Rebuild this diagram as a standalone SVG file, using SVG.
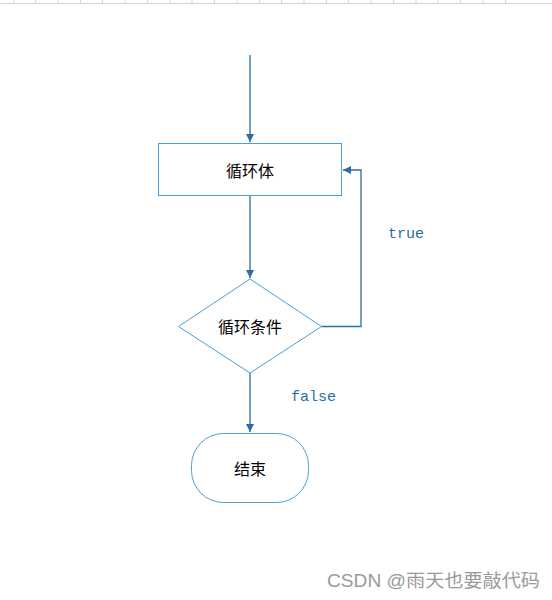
<svg xmlns="http://www.w3.org/2000/svg" width="552" height="600" viewBox="0 0 552 600">
<style>
.shape{fill:#ffffff;stroke:#4a9fdc;stroke-width:1}
.conn{fill:none;stroke:#2b6ca3;stroke-width:1.3}
.lbl{font-family:"Noto Sans CJK SC","Liberation Sans",sans-serif;font-size:16px;fill:#000;text-anchor:middle;dominant-baseline:central}
.edge{font-family:"Liberation Mono","DejaVu Sans Mono",monospace;font-size:15px;fill:#2b6ca3}
.wm{font-family:"Liberation Sans","Noto Sans CJK SC",sans-serif;font-size:18px;fill:#9a9a9a}
.tick{stroke:#d4d4d4;stroke-width:1}
</style>
<defs>
<marker id="arr" markerWidth="10" markerHeight="10" refX="8" refY="5" orient="auto" markerUnits="userSpaceOnUse">
<path d="M0,1 L8,5 L0,9 Z" fill="#2b6ca3"/>
</marker>
</defs>
<rect width="552" height="600" fill="#ffffff"/>
<g id="ruler">
<line class="tick" x1="0" y1="3.5" x2="552" y2="3.5"/>
<path class="tick" d="M14,0V3 M35.5,0V3 M58,0V3 M80.5,0V3 M102.5,0V3 M125,0V3 M147.5,0V3 M170,0V3 M192,0V3 M214.5,0V3 M237,0V3 M259.5,0V3 M281.5,0V3 M304,0V3 M326.5,0V3 M348.5,0V3 M371,0V3 M393.5,0V3 M416,0V3 M438,0V3 M460.5,0V3 M483,0V3 M505.5,0V3"/>
</g>
<g id="connectors">
<line class="conn" x1="250" y1="55" x2="250" y2="142" marker-end="url(#arr)"/>
<line class="conn" x1="250" y1="196" x2="250" y2="278" marker-end="url(#arr)"/>
<polyline class="conn" points="321.5,326.5 361,326.5 361,170 343,170" marker-end="url(#arr)"/>
<line class="conn" x1="250" y1="373" x2="250" y2="432" marker-end="url(#arr)"/>
<text class="edge" x="388" y="238">true</text>
<text class="edge" x="291" y="401">false</text>
</g>
<g id="loop-body">
<rect class="shape" x="158.5" y="143.5" width="183" height="52"/>
<text class="lbl" x="250" y="169.5">循环体</text>
</g>
<g id="loop-condition">
<polygon class="shape" points="250,279 321.5,326.5 250,373 178.5,326.5"/>
<text class="lbl" x="250" y="325.5">循环条件</text>
</g>
<g id="end">
<rect class="shape" x="191.5" y="433.5" width="117" height="69" rx="32" ry="32"/>
<text class="lbl" x="250" y="467.5">结束</text>
</g>
<text class="wm" x="327" y="587" textLength="213" lengthAdjust="spacingAndGlyphs">CSDN @雨天也要敲代码</text>
</svg>
